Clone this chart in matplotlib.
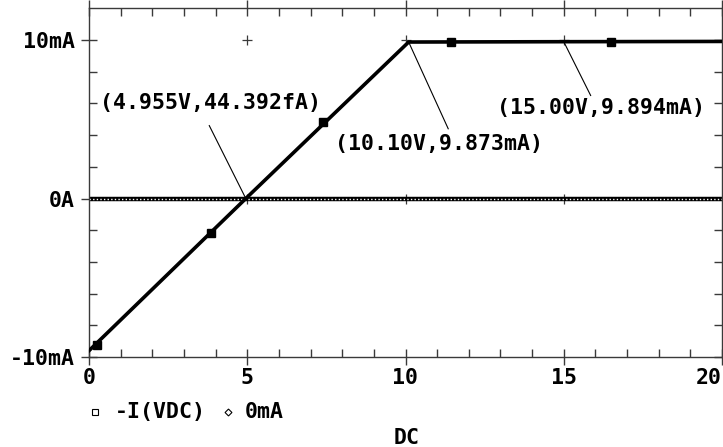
import matplotlib
matplotlib.use("Agg")
import matplotlib.pyplot as plt
from matplotlib.lines import Line2D

# Data (V, mA)
curve_x = [0.0, 4.955, 10.10, 15.00, 20.0]
curve_y = [-9.6, 0.0, 9.873, 9.894, 9.91]
marker_x = [0.25, 3.85, 7.4, 11.45, 16.5]
marker_y = [-9.25, -2.15, 4.85, 9.88, 9.90]
zero_x = [0.0, 20.0]
zero_y = [0.0, 0.0]
grid_x = [5, 10, 15, 5, 10, 15]
grid_y = [10, 10, 10, 0, 0, 0]

annot_text = ["(4.955V,44.392fA)", "(10.10V,9.873mA)", "(15.00V,9.894mA)"]
annot_pts = [(4.955, 0.0), (10.10, 9.873), (15.00, 9.894)]
annot_txt_pos = [(0.35, 6.0), (7.78, 3.47), (12.88, 5.68)]
annot_leader_start = [(3.8, 4.6), (11.35, 4.4), (15.85, 6.5)]

xticks = [0, 5, 10, 15, 20]
xticklabels = ["0", "5", "10", "15", "20"]
yticks = [-10, 0, 10]
yticklabels = ["-10mA", "0A", "10mA"]

FONT = "DejaVu Sans Mono"
FS = 15.5
FW = "bold"
AX = "#3a3a3a"

fig = plt.figure(figsize=(7.23, 4.47), dpi=100)
ax = fig.add_axes([89/723, 90/447, 633/723, 349/447])
ax.set_xlim(0, 20)
ax.set_ylim(-10, 12.02)

# zero line (dotted look)
ax.plot(zero_x, zero_y, color="black", lw=3.2, solid_capstyle="butt", zorder=2)
ax.plot(zero_x, zero_y, color="white", lw=1.0, ls=(0, (1, 1.6)), zorder=2.1)

# main curve
ax.plot(curve_x, curve_y, color="black", lw=2.6, zorder=3)
ax.plot(marker_x, marker_y, ls="none", marker="s", ms=5.5, color="black", zorder=4)

# grid crosses
ax.plot(grid_x, grid_y, ls="none", marker="+", ms=7, mew=0.9, color=AX, zorder=1)

# annotations
for t, p, tp, ls in zip(annot_text, annot_pts, annot_txt_pos, annot_leader_start):
    ax.text(tp[0], tp[1], t, fontfamily=FONT, fontsize=FS, fontweight=FW,
            ha="left", va="center", zorder=5)
    ax.plot([ls[0], p[0]], [ls[1], p[1]], color="black", lw=0.8, zorder=5)

# spines
for s in ax.spines.values():
    s.set_color(AX)
    s.set_linewidth(1.0)

ax.set_xticks(xticks)
ax.set_xticklabels(xticklabels, fontfamily=FONT, fontsize=FS, fontweight=FW)
ax.get_xticklabels()[-1].set_horizontalalignment("right")
ax.set_yticks(yticks)
ax.set_yticklabels(yticklabels, fontfamily=FONT, fontsize=FS, fontweight=FW)
ax.set_xticks([i for i in range(21) if i % 5], minor=True)
ax.set_yticks([-8, -6, -4, -2, 2, 4, 6, 8], minor=True)
ax.tick_params(which="major", direction="inout", length=12, width=1.0, color=AX,
               top=True, right=True, pad=4)
ax.tick_params(which="minor", direction="in", length=6, width=1.0, color=AX,
               top=True, right=True)
ax.tick_params(axis="x", which="major", pad=2)

# legend-like labels
ly = 1 - 412/447
fig.add_artist(Line2D([95/723], [ly], transform=fig.transFigure, marker="s",
                      ms=4, mfc="white", mec="black", mew=0.8, ls="none"))
fig.text(115/723, ly, "-I(VDC)", fontfamily=FONT, fontsize=FS, fontweight=FW,
         ha="left", va="center")
fig.add_artist(Line2D([228/723], [ly], transform=fig.transFigure, marker="D",
                      ms=3.5, mfc="white", mec="black", mew=0.8, ls="none"))
fig.text(245/723, ly, "0mA", fontfamily=FONT, fontsize=FS, fontweight=FW,
         ha="left", va="center")
fig.text(407/723, 1 - 438/447, "DC", fontfamily=FONT, fontsize=FS, fontweight=FW,
         ha="center", va="center")

fig.savefig("out.png", dpi=100)
